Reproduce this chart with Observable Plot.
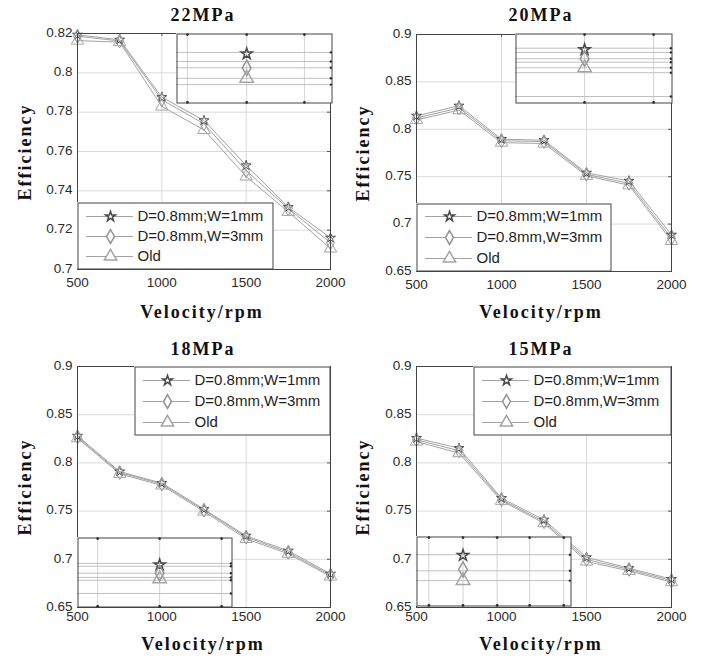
<!DOCTYPE html>
<html><head><meta charset="utf-8">
<script src="https://cdn.jsdelivr.net/npm/d3@7"></script>
<script src="https://cdn.jsdelivr.net/npm/@observablehq/plot@0.6"></script>
<style>
body{margin:0;background:#fff}
#chart{position:relative;width:702px;height:662px;overflow:hidden;background:#fff}
.abs{position:absolute}
.abs svg{display:block}
.lbl{position:absolute;font-family:"Liberation Serif","Times New Roman",serif;font-weight:bold;font-size:18px;line-height:1;white-space:nowrap;color:#111;letter-spacing:2px;transform:translate(-50%,-50%)}
.rot{transform:translate(-50%,-50%) rotate(-90deg)}
</style>
</head><body>
<div id="chart"></div>
<script>
// ---------------- data ----------------
const velocity = [500, 750, 1000, 1250, 1500, 1750, 2000];
const seriesNames = ["D=0.8mm;W=1mm", "D=0.8mm,W=3mm", "Old"];
const titles = ["22MPa", "20MPa", "18MPa", "15MPa"];
const xLabel = "Velocity/rpm";
const yLabel = "Efficiency";

const eff22_w1  = [0.8193, 0.8168, 0.7876, 0.7758, 0.7529, 0.7317, 0.7161];
const eff22_w3  = [0.8186, 0.8162, 0.7863, 0.7741, 0.7503, 0.7310, 0.7136];
const eff22_old = [0.8164, 0.8156, 0.7829, 0.7710, 0.7473, 0.7293, 0.7107];

const eff20_w1  = [0.8142, 0.8248, 0.7896, 0.7885, 0.7540, 0.7456, 0.6887];
const eff20_w3  = [0.8120, 0.8225, 0.7880, 0.7870, 0.7525, 0.7430, 0.6850];
const eff20_old = [0.8100, 0.8202, 0.7860, 0.7850, 0.7510, 0.7410, 0.6823];

const eff18_w1  = [0.8280, 0.7910, 0.7790, 0.7520, 0.7243, 0.7088, 0.6849];
const eff18_w3  = [0.8270, 0.7900, 0.7780, 0.7510, 0.7230, 0.7072, 0.6835];
const eff18_old = [0.8257, 0.7887, 0.7766, 0.7496, 0.7212, 0.7057, 0.6822];

const eff15_w1  = [0.8257, 0.8153, 0.7634, 0.7410, 0.7020, 0.6908, 0.6794];
const eff15_w3  = [0.8240, 0.8127, 0.7620, 0.7390, 0.6998, 0.6895, 0.6778];
const eff15_old = [0.8222, 0.8101, 0.7607, 0.7375, 0.6977, 0.6880, 0.6763];

const xTicks = [500, 1000, 1500, 2000];
const yTicks22 = [0.7, 0.72, 0.74, 0.76, 0.78, 0.8, 0.82];
const yTicksLow = [0.65, 0.7, 0.75, 0.8, 0.85, 0.9];

// magnified insets (inset-local units 0..100)
const insetGridX22 = [7, 45, 82];
const insetGridY22 = [27, 40, 49, 64, 73];
const insetMarks22 = [29, 49, 64];
const insetGridX20 = [44, 88];
const insetGridY20 = [21, 27, 36, 41, 49, 56, 90];
const insetMarks20 = [23, 36, 49];
const insetGridX18 = [13, 53, 93];
const insetGridY18 = [37, 41, 51, 57, 61, 80];
const insetMarks18 = [39, 51, 59];
const insetGridX15 = [8, 30, 52, 73, 95];
const insetGridY15 = [26, 49, 63];
const insetMarks15 = [27, 47, 63];

// ---------------- styles / layout ----------------
const markerStyle = [
  {symbol: "star", r: 3.1, stroke: "#4a4a4a"},
  {symbol: "diamond", r: 4.2, stroke: "#959595"},
  {symbol: "triangle", r: 4.6, stroke: "#a5a5a5"}
];
const panels = [
  {series: [eff22_w1, eff22_w3, eff22_old], yDomain: [0.7, 0.82], yTicks: yTicks22,
   gx: insetGridX22, gy: insetGridY22, gm: insetMarks22, cx: 45,
   ox: 0, oy: 0, frame: [77, 330, 33, 269], xPad: 8, title: [203, 15], ylab: [25, 152], xlab: [202, 312],
   legend: [77, 202, 196, 67], inset: [176, 33, 156, 70]},
  {series: [eff20_w1, eff20_w3, eff20_old], yDomain: [0.65, 0.9], yTicks: yTicksLow,
   gx: insetGridX20, gy: insetGridY20, gm: insetMarks20, cx: 44,
   ox: 351, oy: 0, frame: [416, 671, 34, 271], xPad: 8, title: [541, 15], ylab: [363, 153], xlab: [541, 312],
   legend: [416, 203, 195, 68], inset: [515, 33, 157, 70]},
  {series: [eff18_w1, eff18_w3, eff18_old], yDomain: [0.65, 0.9], yTicks: yTicksLow,
   gx: insetGridX18, gy: insetGridY18, gm: insetMarks18, cx: 53,
   ox: 0, oy: 331, frame: [77, 330, 366, 607], xPad: 4, title: [203, 349], ylab: [25, 487], xlab: [203, 644],
   legend: [134, 366, 196, 69], inset: [77, 537, 155, 70]},
  {series: [eff15_w1, eff15_w3, eff15_old], yDomain: [0.65, 0.9], yTicks: yTicksLow,
   gx: insetGridX15, gy: insetGridY15, gm: insetMarks15, cx: 30,
   ox: 351, oy: 331, frame: [416, 671, 366, 607], xPad: 4, title: [541, 349], ylab: [363, 487], xlab: [541, 644],
   legend: [473, 366, 198, 69], inset: [416, 536, 155, 70]}
];

const chart = document.getElementById("chart");
const fmtY = d => String(+d.toFixed(2));
const fmtX = d => String(d);
const baseStyle = {fontFamily: "'Liberation Sans', Arial, sans-serif", fontSize: "13.5px", color: "#2a2a2a", background: "transparent", overflow: "visible"};

function place(el, x, y, z) {
  const wrap = document.createElement("div");
  wrap.className = "abs";
  wrap.style.left = x + "px";
  wrap.style.top = y + "px";
  wrap.style.zIndex = z;
  wrap.appendChild(el);
  chart.appendChild(wrap);
}
function label(text, pos, cls) {
  const d = document.createElement("div");
  d.className = "lbl" + (cls ? " " + cls : "");
  d.textContent = text;
  d.style.left = pos[0] + "px";
  d.style.top = pos[1] + "px";
  chart.appendChild(d);
}

panels.forEach((p, pi) => {
  const rows = seriesNames.flatMap((s, i) => velocity.map((v, j) => ({s, v, e: p.series[i][j]})));
  const [l, r, t, b] = p.frame;
  const main = Plot.plot({
    width: 351, height: 331,
    marginLeft: l - p.ox, marginRight: p.ox + 351 - r,
    marginTop: t - p.oy, marginBottom: p.oy + 331 - b,
    style: baseStyle,
    x: {domain: [500, 2000]},
    y: {domain: p.yDomain},
    marks: [
      Plot.gridX(xTicks, {stroke: "#dadada", strokeOpacity: 1}),
      Plot.gridY(p.yTicks, {stroke: "#dadada", strokeOpacity: 1}),
      Plot.axisX(xTicks, {tickSize: 0, tickPadding: p.xPad, tickFormat: fmtX, label: null}),
      Plot.axisY(p.yTicks, {tickSize: 0, tickPadding: 5, tickFormat: fmtY, label: null, dy: -1}),
      Plot.ruleY(p.yTicks, {y: d => d, x1: 1982, x2: 2000, stroke: "#555"}),
      Plot.ruleX(xTicks, {x: d => d, y1: p.yDomain[1] - (p.yDomain[1] - p.yDomain[0]) * 0.012, y2: p.yDomain[1], stroke: "#555"}),
      Plot.line(rows, {x: "v", y: "e", z: "s", stroke: "#a3a3a3", strokeWidth: 1}),
      ...seriesNames.map((s, i) => Plot.dot(rows.filter(d => d.s === s), {
        x: "v", y: "e", symbol: markerStyle[i].symbol, r: markerStyle[i].r,
        stroke: markerStyle[i].stroke, fill: "none", strokeWidth: 1})),
      Plot.frame({stroke: "#444"})
    ]
  });
  place(main, p.ox, p.oy, 1);

  // legend
  const [lx, ly, lw, lh] = p.legend;
  const leg = Plot.plot({
    width: lw, height: lh, margin: 0,
    style: {...baseStyle, background: "#fff"},
    x: {type: "identity", axis: null},
    y: {type: "point", domain: seriesNames, range: [13, lh - 13], padding: 0, axis: null},
    marks: [
      Plot.ruleY(seriesNames, {y: d => d, x1: 9, x2: 56, stroke: "#a3a3a3"}),
      ...seriesNames.map((s, i) => Plot.dot([s], {
        x: 33, y: d => d, symbol: markerStyle[i].symbol, r: markerStyle[i].r,
        stroke: markerStyle[i].stroke, fill: "#fff"})),
      Plot.text(seriesNames, {x: 60, y: d => d, text: d => d, textAnchor: "start", fontSize: 15, fill: "#1e1e1e"}),
      Plot.frame({stroke: "#444", inset: 0.5})
    ]
  });
  place(leg, lx, ly, 3);

  // magnified inset
  const [ix, iy, iw, ih] = p.inset;
  const ins = Plot.plot({
    width: iw, height: ih, margin: 0,
    style: {...baseStyle, background: "#fff"},
    x: {domain: [0, 100], axis: null},
    y: {domain: [0, 100], reverse: true, axis: null},
    marks: [
      Plot.ruleX(p.gx, {stroke: "#d2d2d2"}),
      Plot.ruleY(p.gy, {stroke: "#c0c0c0"}),
      Plot.dot(p.gx, {x: d => d, y: 1.5, r: 1.4, fill: "#222"}),
      Plot.dot(p.gx, {x: d => d, y: 98.5, r: 1.4, fill: "#222"}),
      Plot.dot(p.gy, {x: 99, y: d => d, r: 1.2, fill: "#222"}),
      ...seriesNames.map((s, i) => Plot.dot([p.gm[i]], {
        x: p.cx, y: d => d, symbol: markerStyle[i].symbol, r: markerStyle[i].r + 0.4,
        stroke: markerStyle[i].stroke, fill: "none"})),
      Plot.frame({stroke: "#444", inset: 0.5})
    ]
  });
  place(ins, ix, iy, 2);

  label(titles[pi], p.title);
  label(yLabel, p.ylab, "rot");
  label(xLabel, p.xlab);
});
</script>
</body></html>
